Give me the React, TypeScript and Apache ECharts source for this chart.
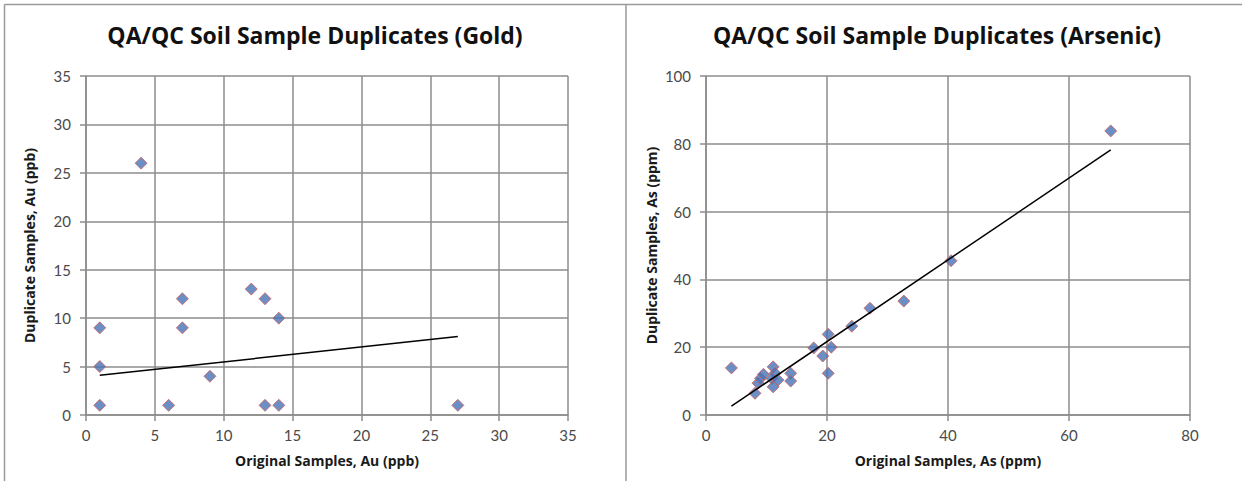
import React, { useEffect, useRef } from "react";
import * as echarts from "echarts";

// Gold (ppb): original vs duplicate
const goldOriginal = [1, 1, 1, 4, 6, 7, 7, 9, 12, 13, 13, 14, 14, 27];
const goldDuplicate = [9, 5, 1, 26, 1, 12, 9, 4, 13, 12, 1, 10, 1, 1];
const goldTrendX = [1, 27];
const goldTrendY = [4.1, 8.1];

// Arsenic (ppm): original vs duplicate
const asOriginal = [4.2, 8.1, 8.6, 9.0, 9.5, 11.1, 11.4, 10.9, 11.1, 11.9, 14.0, 14.0, 17.8, 19.3, 20.2, 20.7, 20.2, 24.1, 27.1, 32.7, 40.5, 66.9];
const asDuplicate = [13.9, 6.4, 9.4, 10.8, 12.0, 14.2, 12.3, 10.8, 8.3, 10.3, 12.3, 10.0, 19.8, 17.4, 23.8, 20.0, 12.3, 26.2, 31.5, 33.6, 45.5, 83.8];
const asTrendX = [4.2, 66.9];
const asTrendY = [2.6, 78.2];

const goldTicks = { min: 0, max: 35, interval: 5 };
const asXTicks = { min: 0, max: 80, interval: 20 };
const asYTicks = { min: 0, max: 100, interval: 20 };

const titles = ["QA/QC Soil Sample Duplicates (Gold)", "QA/QC Soil Sample Duplicates (Arsenic)"];
const xNames = ["Original Samples, Au (ppb)", "Original Samples, As (ppm)"];
const yNames = ["Duplicate Samples, Au (ppb)", "Duplicate Samples, As (ppm)"];

const FONT = "Open Sans";
const GRID_COLOR = "#8c8c8c";

function pairs(xs: number[], ys: number[]) {
  return xs.map((x, i) => [x, ys[i]]);
}

function axisCommon(labelMargin: number) {
  return {
    type: "value" as const,
    nameLocation: "middle" as const,
    nameTextStyle: { fontFamily: FONT, fontWeight: "bold", fontSize: 14, color: "#1a1a1a" },
    axisLine: { show: true, lineStyle: { color: GRID_COLOR, width: 1.5 } },
    axisTick: { show: true, length: 6, lineStyle: { color: GRID_COLOR, width: 1.5 } },
    axisLabel: { fontFamily: "Lato", fontSize: 15, color: "#4a4a4a", margin: labelMargin },
    splitLine: { show: true, lineStyle: { color: GRID_COLOR, width: 1.5 } },
  };
}

export default function App() {
  const ref = useRef<HTMLDivElement>(null);
  useEffect(() => {
    document.body.style.margin = "0";
    const chart = echarts.init(ref.current!, null, { renderer: "svg" });
    const marker = {
      symbol: "diamond",
      symbolSize: 12,
      itemStyle: { color: "#4673b5", borderColor: "#d0605c", borderWidth: 1 },
    };
    const titleStyle = { fontFamily: FONT, fontWeight: "bold", fontSize: 23, color: "#111" };
    chart.setOption({
      animation: false,
      backgroundColor: "#ffffff",
      title: [
        { text: titles[0], left: 310, top: 18, textAlign: "center", textStyle: titleStyle },
        { text: titles[1], left: 932, top: 18, textAlign: "center", textStyle: titleStyle },
      ],
      grid: [
        { left: 86, top: 76, width: 482, height: 339 },
        { left: 706, top: 76, width: 484, height: 339 },
      ],
      xAxis: [
        { ...axisCommon(12), gridIndex: 0, ...goldTicks, name: xNames[0], nameGap: 38 },
        { ...axisCommon(12), gridIndex: 1, ...asXTicks, name: xNames[1], nameGap: 38 },
      ],
      yAxis: [
        { ...axisCommon(15), gridIndex: 0, ...goldTicks, name: yNames[0], nameGap: 50 },
        { ...axisCommon(15), gridIndex: 1, ...asYTicks, name: yNames[1], nameGap: 48 },
      ],
      series: [
        {
          type: "line",
          xAxisIndex: 0,
          yAxisIndex: 0,
          data: pairs(goldTrendX, goldTrendY),
          symbol: "none",
          lineStyle: { color: "#000", width: 1.5 },
          z: 3,
        },
        {
          type: "scatter",
          xAxisIndex: 0,
          yAxisIndex: 0,
          data: pairs(goldOriginal, goldDuplicate),
          ...marker,
          z: 4,
        },
        {
          type: "scatter",
          xAxisIndex: 1,
          yAxisIndex: 1,
          data: pairs(asOriginal, asDuplicate),
          ...marker,
          z: 3,
        },
        {
          type: "line",
          xAxisIndex: 1,
          yAxisIndex: 1,
          data: pairs(asTrendX, asTrendY),
          symbol: "none",
          lineStyle: { color: "#000", width: 1.5 },
          z: 4,
        },
      ],
      graphic: [
        { type: "line", shape: { x1: 4.5, y1: 4.5, x2: 1242, y2: 4.5 }, style: { stroke: "#9a9a9a", lineWidth: 1.5 } },
        { type: "line", shape: { x1: 4.5, y1: 4.5, x2: 4.5, y2: 481 }, style: { stroke: "#9a9a9a", lineWidth: 1.5 } },
        { type: "line", shape: { x1: 626, y1: 4.5, x2: 626, y2: 481 }, style: { stroke: "#9a9a9a", lineWidth: 1.5 } },
      ],
    });
    return () => chart.dispose();
  }, []);
  return (
    <div
      ref={ref}
      style={{ position: "fixed", left: 0, top: 0, width: 1242, height: 481, background: "#fff" }}
    />
  );
}
